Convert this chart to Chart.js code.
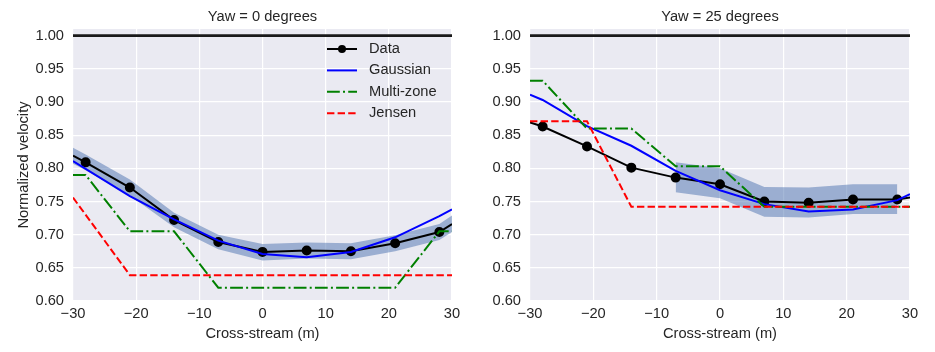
<!DOCTYPE html>
<html>
<head>
<meta charset="utf-8">
<script src="https://cdn.jsdelivr.net/npm/chart.js@4.4.1/dist/chart.umd.min.js"></script>
<style>
  body { margin: 0; background: #fff; width: 935px; height: 352px; position: relative; overflow: hidden; }
  canvas { position: absolute; top: 0; }
  #left { left: 0; }
  #right { left: 460px; }
</style>
</head>
<body>
<canvas id="left" width="474" height="352"></canvas>
<canvas id="right" width="475" height="352"></canvas>
<script>
// ---- data ----
const xTicks = [-30, -20, -10, 0, 10, 20, 30];
const yTicks = [0.60, 0.65, 0.70, 0.75, 0.80, 0.85, 0.90, 0.95, 1.00];
const legendLabels = ['Data', 'Gaussian', 'Multi-zone', 'Jensen'];

// reference line at 1.0
const refX = [-30, 30];
const refY = [1.0, 1.0];

// measured data (markers only on the inner points)
const dataX = [-30, -28, -21, -14, -7, 0, 7, 14, 21, 28, 30];
const dataMarkers = [0, 1, 1, 1, 1, 1, 1, 1, 1, 1, 0];

// Yaw = 0
const data0 = [0.819, 0.809, 0.771, 0.722, 0.689, 0.674, 0.676, 0.675, 0.687, 0.704, 0.716];
const bandX0 = [-30, -28, -21, -14, -7, 0, 7, 14, 21, 28, 30];
const bandUpper0 = [0.831, 0.821, 0.783, 0.733, 0.700, 0.686, 0.688, 0.687, 0.699, 0.716, 0.729];
const bandLower0 = [0.807, 0.797, 0.759, 0.711, 0.678, 0.661, 0.664, 0.663, 0.675, 0.692, 0.704];
const gaussX0 = [-30, -21, -14, -7, 0, 7, 14, 21, 28, 30];
const gauss0 = [0.811, 0.758, 0.723, 0.691, 0.671, 0.666, 0.674, 0.696, 0.728, 0.738];
const multiX0 = [-30, -28, -21, -14, -7, 21, 28, 30];
const multi0 = [0.790, 0.790, 0.705, 0.705, 0.620, 0.620, 0.705, 0.705];
const jensenX0 = [-30, -21, 30];
const jensen0 = [0.756, 0.639, 0.639];

// Yaw = 25
const data25 = [0.869, 0.863, 0.833, 0.801, 0.786, 0.776, 0.750, 0.748, 0.753, 0.753, 0.756];
const bandX25 = [-7, 0, 7, 14, 21, 28];
const bandUpper25 = [0.809, 0.800, 0.772, 0.771, 0.776, 0.776];
const bandLower25 = [0.764, 0.755, 0.727, 0.726, 0.731, 0.731];
const gaussX25 = [-30, -28, -21, -14, -7, 0, 7, 14, 21, 28, 30];
const gauss25 = [0.911, 0.903, 0.8635, 0.834, 0.796, 0.767, 0.746, 0.735, 0.738, 0.752, 0.761];
const multiX25 = [-30, -28, -21, -14, -7, 0, 7, 30];
const multi25 = [0.932, 0.932, 0.860, 0.860, 0.803, 0.803, 0.742, 0.742];
const jensenX25 = [-30, -21, -14, 30];
const jensen25 = [0.871, 0.871, 0.742, 0.742];

const FONT = "'Liberation Sans', Arial, sans-serif";
const FS = 14.67;
Chart.defaults.font.family = FONT;
Chart.defaults.color = '#262626';

const pts = (xs, ys) => xs.map((x, i) => ({ x: x, y: ys[i] }));

// grey seaborn-ish plot background
const bgPlugin = {
    id: 'plotBg',
    beforeDraw(chart) {
        const a = chart.chartArea;
        const ctx = chart.ctx;
        ctx.save();
        ctx.fillStyle = '#eaeaf2';
        ctx.fillRect(a.left, a.top, a.right - a.left, a.bottom - a.top);
        ctx.restore();
    }
};

// matplotlib-like legend without frame
const legendPlugin = {
    id: 'panelLegend',
    afterDraw(chart, args, opts) {
        if (!opts.show) return;
        const ctx = chart.ctx;
        legendLabels.forEach((label, i) => {
            const ds = chart.data.datasets[i];
            const y = opts.y0 + i * opts.dy;
            ctx.save();
            ctx.strokeStyle = ds.borderColor;
            ctx.lineWidth = ds.borderWidth;
            ctx.setLineDash(ds.borderDash || []);
            ctx.beginPath();
            ctx.moveTo(opts.x0, y);
            ctx.lineTo(opts.x0 + 30, y);
            ctx.stroke();
            if (i === 0) {
                ctx.fillStyle = ds.borderColor;
                ctx.beginPath();
                ctx.arc(opts.x0 + 15, y, 4, 0, Math.PI * 2);
                ctx.fill();
            }
            ctx.fillStyle = '#262626';
            ctx.font = FS + 'px ' + FONT;
            ctx.textBaseline = 'middle';
            ctx.fillText(label, opts.x0 + 42, y);
            ctx.restore();
        });
    }
};

function makePanel(id, title, p) {
    const datasets = [
        { label: 'Data', data: pts(dataX, p.data), borderColor: '#000000', backgroundColor: '#000000',
          borderWidth: 2, pointRadius: dataMarkers.map(m => m ? 4 : 0), order: 4 },
        { label: 'Gaussian', data: pts(p.gaussX, p.gauss), borderColor: '#0000ff',
          borderWidth: 2, pointRadius: 0, order: 3 },
        { label: 'Multi-zone', data: pts(p.multiX, p.multi), borderColor: '#008000',
          borderWidth: 2, borderDash: [12.8, 3.2, 2, 3.2], pointRadius: 0, order: 2 },
        { label: 'Jensen', data: pts(p.jensenX, p.jensen), borderColor: '#ff0000',
          borderWidth: 2, borderDash: [7.4, 3.2], pointRadius: 0, order: 1 },
        { label: 'ref', data: pts(refX, refY), borderColor: '#1a1a1a',
          borderWidth: 2.7, pointRadius: 0, order: 0 },
        { label: 'lower', data: pts(p.bandX, p.bandLower), borderWidth: 0, borderColor: 'rgba(0,0,0,0)',
          pointRadius: 0, fill: false, order: 11 },
        { label: 'upper', data: pts(p.bandX, p.bandUpper), borderWidth: 0, borderColor: 'rgba(0,0,0,0)',
          backgroundColor: 'rgba(76,114,176,0.5)', pointRadius: 0, fill: '-1', order: 10 }
    ];

    return new Chart(document.getElementById(id), {
        type: 'line',
        data: { datasets: datasets },
        plugins: [bgPlugin, legendPlugin],
        options: {
            responsive: false,
            animation: false,
            events: [],
            elements: { line: { tension: 0 } },
            layout: { padding: p.padding },
            plugins: {
                legend: { display: false },
                tooltip: { enabled: false },
                title: {
                    display: true, text: title, fullSize: false,
                    font: { size: FS, weight: 'normal' }, color: '#262626',
                    padding: { top: 8.4, bottom: 3 }
                },
                panelLegend: p.legend
            },
            scales: {
                x: {
                    type: 'linear', min: -30, max: 30,
                    afterBuildTicks: s => { s.ticks = xTicks.map(v => ({ value: v })); },
                    afterFit: s => { s.height = 46; },
                    grid: { color: '#ffffff', lineWidth: 1.2, drawTicks: false },
                    border: { display: false },
                    ticks: {
                        padding: 4, font: { size: FS },
                        callback: v => v < 0 ? '\u2212' + Math.abs(v) : String(v)
                    },
                    title: { display: true, text: 'Cross-stream (m)', font: { size: FS }, padding: { top: 0, bottom: 4 } }
                },
                y: {
                    type: 'linear', min: 0.6, max: 1.01,
                    afterBuildTicks: s => { s.ticks = yTicks.map(v => ({ value: v })); },
                    afterFit: s => { s.width = p.yWidth; },
                    grid: { color: '#ffffff', lineWidth: 1.2, drawTicks: false },
                    border: { display: false },
                    ticks: { padding: 9, font: { size: FS }, callback: v => v.toFixed(2) },
                    title: { display: p.yTitle, text: 'Normalized velocity', font: { size: FS }, padding: { top: 4, bottom: 4 } }
                }
            }
        }
    });
}

makePanel('left', 'Yaw = 0 degrees', {
    data: data0, bandX: bandX0, bandUpper: bandUpper0, bandLower: bandLower0,
    gaussX: gaussX0, gauss: gauss0, multiX: multiX0, multi: multi0,
    jensenX: jensenX0, jensen: jensen0,
    padding: { left: 11, right: 22, top: 0, bottom: 5 }, yWidth: 62, yTitle: true,
    legend: { show: true, x0: 327, y0: 49, dy: 21.4 }
});

makePanel('right', 'Yaw = 25 degrees', {
    data: data25, bandX: bandX25, bandUpper: bandUpper25, bandLower: bandLower25,
    gaussX: gaussX25, gauss: gauss25, multiX: multiX25, multi: multi25,
    jensenX: jensenX25, jensen: jensen25,
    padding: { left: 0, right: 25, top: 0, bottom: 5 }, yWidth: 70, yTitle: false,
    legend: { show: false }
});
</script>
</body>
</html>
